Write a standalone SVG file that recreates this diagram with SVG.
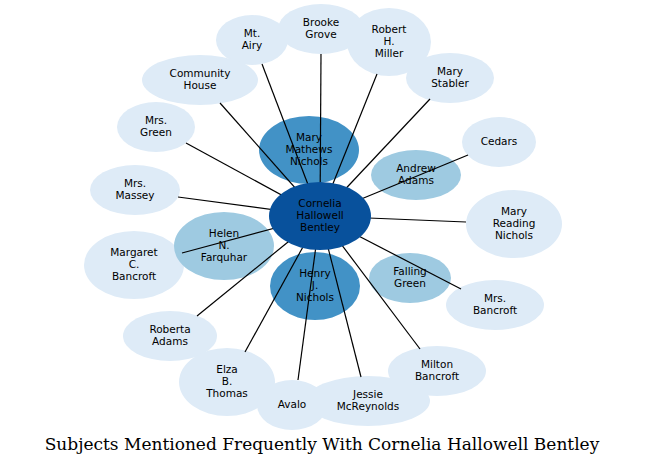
<svg xmlns="http://www.w3.org/2000/svg" width="645" height="466" viewBox="0 0 645 466">
<style>
.l{fill:#deebf7}.m{fill:#9ecae1}.d{fill:#4292c6}.c{fill:#08519c}
text{font-family:"DejaVu Sans",sans-serif;font-size:10.5px;text-anchor:middle;fill:#000}
.e line{stroke:#000;stroke-width:1.2}
</style>
<rect width="645" height="466" fill="#fff"/>
<g id="n-mtairy"><ellipse class="l" cx="252" cy="40" rx="36" ry="25"/></g>
<g id="n-brooke"><ellipse class="l" cx="321" cy="29" rx="43" ry="25"/></g>
<g id="n-robert"><ellipse class="l" cx="389" cy="42" rx="42" ry="34"/></g>
<g id="n-stabler"><ellipse class="l" cx="450" cy="78" rx="44" ry="25"/></g>
<g id="n-community"><ellipse class="l" cx="200" cy="80" rx="58" ry="25"/></g>
<g id="n-green"><ellipse class="l" cx="156" cy="127" rx="39" ry="25"/></g>
<g id="n-cedars"><ellipse class="l" cx="499" cy="142" rx="37" ry="25"/></g>
<g id="n-massey"><ellipse class="l" cx="135" cy="190" rx="45" ry="25"/></g>
<g id="n-mrn"><ellipse class="l" cx="514" cy="224" rx="48" ry="34"/></g>
<g id="n-margaret"><ellipse class="l" cx="134" cy="265" rx="50" ry="34"/></g>
<g id="n-mrsb"><ellipse class="l" cx="495" cy="305" rx="49" ry="25"/></g>
<g id="n-roberta"><ellipse class="l" cx="170" cy="336" rx="47" ry="25"/></g>
<g id="n-milton"><ellipse class="l" cx="437" cy="371" rx="49" ry="25"/></g>
<g id="n-elza"><ellipse class="l" cx="227" cy="382" rx="48" ry="34"/></g>
<g id="n-avalo"><ellipse class="l" cx="292" cy="405" rx="35" ry="25"/></g>
<g id="n-jessie"><ellipse class="l" cx="368" cy="401" rx="62" ry="25"/></g>
<g id="n-mmn"><ellipse class="d" cx="309" cy="150" rx="50" ry="34"/></g>
<g id="n-henry"><ellipse class="d" cx="315" cy="286" rx="45" ry="34"/></g>
<g id="n-andrew"><ellipse class="m" cx="416" cy="175" rx="45" ry="25"/></g>
<g id="n-helen"><ellipse class="m" cx="224" cy="246" rx="50" ry="34"/></g>
<g id="n-falling"><ellipse class="m" cx="410" cy="278" rx="41" ry="25"/></g>
<g class="e" id="edges">
<line x1="320" y1="216" x2="262" y2="64"/>
<line x1="320" y1="216" x2="321" y2="54"/>
<line x1="320" y1="216" x2="377" y2="74"/>
<line x1="320" y1="216" x2="430" y2="99"/>
<line x1="320" y1="216" x2="220" y2="103"/>
<line x1="320" y1="216" x2="186" y2="143"/>
<line x1="320" y1="216" x2="468" y2="155"/>
<line x1="320" y1="216" x2="178" y2="197"/>
<line x1="320" y1="216" x2="466" y2="222"/>
<line x1="320" y1="216" x2="182" y2="253"/>
<line x1="320" y1="216" x2="461" y2="289"/>
<line x1="320" y1="216" x2="197" y2="316"/>
<line x1="320" y1="216" x2="420" y2="349"/>
<line x1="320" y1="216" x2="245" y2="352"/>
<line x1="320" y1="216" x2="298" y2="380"/>
<line x1="320" y1="216" x2="361" y2="377"/>
</g>
<g id="n-center"><ellipse class="c" cx="320" cy="216" rx="51" ry="34"/></g>
<g id="labels">
<text x="252" y="37">Mt.<tspan x="252" dy="12">Airy</tspan></text>
<text x="321" y="26">Brooke<tspan x="321" dy="12">Grove</tspan></text>
<text x="389" y="33">Robert<tspan x="389" dy="12">H.</tspan><tspan x="389" dy="12">Miller</tspan></text>
<text x="450" y="75">Mary<tspan x="450" dy="12">Stabler</tspan></text>
<text x="200" y="77">Community<tspan x="200" dy="12">House</tspan></text>
<text x="156" y="124">Mrs.<tspan x="156" dy="12">Green</tspan></text>
<text x="499" y="145">Cedars</text>
<text x="135" y="187">Mrs.<tspan x="135" dy="12">Massey</tspan></text>
<text x="514" y="215">Mary<tspan x="514" dy="12">Reading</tspan><tspan x="514" dy="12">Nichols</tspan></text>
<text x="134" y="256">Margaret<tspan x="134" dy="12">C.</tspan><tspan x="134" dy="12">Bancroft</tspan></text>
<text x="495" y="302">Mrs.<tspan x="495" dy="12">Bancroft</tspan></text>
<text x="170" y="333">Roberta<tspan x="170" dy="12">Adams</tspan></text>
<text x="437" y="368">Milton<tspan x="437" dy="12">Bancroft</tspan></text>
<text x="227" y="373">Elza<tspan x="227" dy="12">B.</tspan><tspan x="227" dy="12">Thomas</tspan></text>
<text x="292" y="408">Avalo</text>
<text x="368" y="398">Jessie<tspan x="368" dy="12">McReynolds</tspan></text>
<text x="309" y="141">Mary<tspan x="309" dy="12">Mathews</tspan><tspan x="309" dy="12">Nichols</tspan></text>
<text x="315" y="277">Henry<tspan x="315" dy="12">J.</tspan><tspan x="315" dy="12">Nichols</tspan></text>
<text x="416" y="172">Andrew<tspan x="416" dy="12">Adams</tspan></text>
<text x="224" y="237">Helen<tspan x="224" dy="12">N.</tspan><tspan x="224" dy="12">Farquhar</tspan></text>
<text x="410" y="275">Falling<tspan x="410" dy="12">Green</tspan></text>
<text x="320" y="207">Cornelia<tspan x="320" dy="12">Hallowell</tspan><tspan x="320" dy="12">Bentley</tspan></text>
<text x="322" y="450" style="font-family:'DejaVu Serif',serif;font-size:17px">Subjects Mentioned Frequently With Cornelia Hallowell Bentley</text>
</g>
</svg>
